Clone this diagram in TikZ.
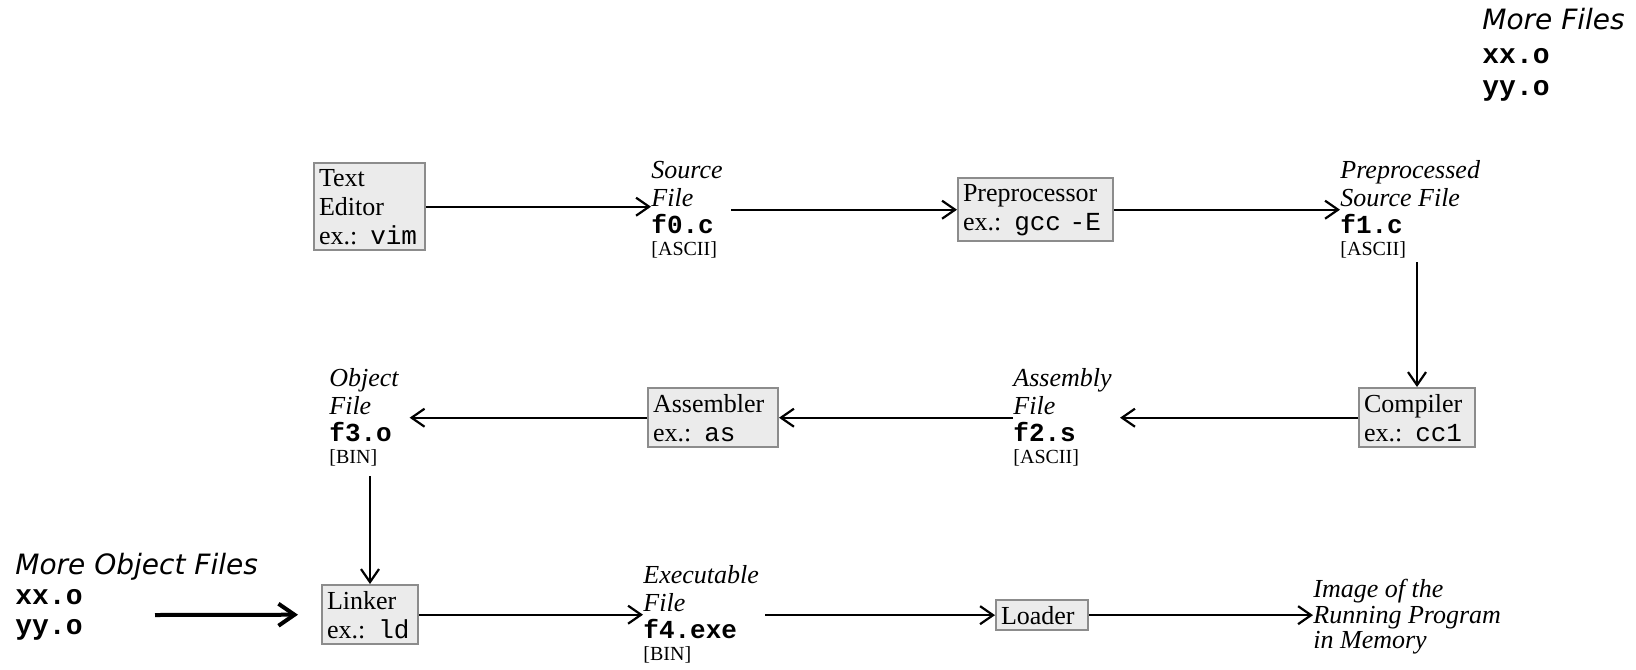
\documentclass[tikz,border=0pt]{standalone}
\usepackage{fontspec}
\setmainfont{Liberation Serif}
\setmonofont{Liberation Mono}
\newfontfamily\uifont{DejaVu Sans}
\usetikzlibrary{arrows.meta}
\definecolor{boxfill}{HTML}{EBEBEB}
\definecolor{boxline}{HTML}{8C8C8C}

\begin{document}
\begin{tikzpicture}[x=0.5pt,y=-0.5pt,
  tool/.style={draw=boxline,fill=boxfill,line width=1pt,anchor=north west,align=left,inner xsep=2.5pt,inner ysep=3pt,font=\fontsize{13}{14.5}\selectfont},
  file/.style={anchor=north west,align=left,inner sep=0pt,font=\fontsize{13}{13.8}\selectfont},
  more/.style={anchor=north west,align=left,inner sep=0pt,font=\fontsize{14}{15}\selectfont},
  flow/.style={-{Straight Barb[length=6.5pt,width=9pt]},line width=1.1pt},
  bigflow/.style={-{Straight Barb[length=8pt,width=11pt]},line width=2pt}]

    \useasboundingbox (0,0) rectangle (1636,669);

    % tools
    \node[tool,text width=50.5pt] (te) at (313,162) {Text\\Editor\\ex.: \texttt{vim}};
    \node[tool,text width=72.5pt] (pre) at (957,177) {Preprocessor\\ex.: \texttt{gcc -E}};
    \node[tool,text width=53pt] (comp) at (1358,387) {Compiler\\ex.: \texttt{cc1}};
    \node[tool,text width=60pt] (asm) at (647,387) {Assembler\\ex.: \texttt{as}};
    \node[tool,text width=43pt] (lnk) at (321,584) {Linker\\ex.: \texttt{ld}};
    \node[tool,text width=41pt] (ldr) at (995,599) {Loader};

    % files
    \node[file] (src) at (651,161) {\textit{Source}\\\textit{File}\\\textbf{\texttt{f0.c}}\\[-3pt]{\fontsize{10}{12}\selectfont [ASCII]}};
    \node[file] (ppf) at (1340,160) {\textit{Preprocessed}\\\textit{Source File}\\\textbf{\texttt{f1.c}}\\[-3pt]{\fontsize{10}{12}\selectfont [ASCII]}};
    \node[file] (asf) at (1013,368) {\textit{Assembly}\\\textit{File}\\\textbf{\texttt{f2.s}}\\[-3pt]{\fontsize{10}{12}\selectfont [ASCII]}};
    \node[file] (obj) at (329,368) {\textit{Object}\\\textit{File}\\\textbf{\texttt{f3.o}}\\[-3pt]{\fontsize{10}{12}\selectfont [BIN]}};
    \node[file] (exe) at (643,565) {\textit{Executable}\\\textit{File}\\\textbf{\texttt{f4.exe}}\\[-3pt]{\fontsize{10}{12}\selectfont [BIN]}};
    \node[file,font=\fontsize{13}{12.8}\selectfont] (img) at (1313,579) {\textit{Image of the}\\\textit{Running Program}\\\textit{in Memory}};

    % extra inputs
    \node[more] (mof) at (15,553) {{\uifont\itshape More Object Files}\\\textbf{\texttt{xx.o}}\\\textbf{\texttt{yy.o}}};
    \node[more,font=\fontsize{14}{16}\selectfont] (mf) at (1482,8) {{\uifont\itshape More Files}\\[1pt]\textbf{\texttt{xx.o}}\\\textbf{\texttt{yy.o}}};
    \coordinate (mofin) at (155,615);

    % flow
    \draw[flow] (te.east) -- (te.east -| src.west);
    \draw[flow] ([xshift=4pt]src.east |- pre.west) -- (pre.west);
    \draw[flow] (pre.east) -- (pre.east -| ppf.west);
    \draw[flow] ([yshift=-2pt]ppf.south -| comp.north) -- (comp.north);
    \draw[flow] (comp.west) -- ([xshift=4pt]asf.east |- comp.west);
    \draw[flow] (asf.west |- asm.east) -- (asm.east);
    \draw[flow] (asm.west) -- ([xshift=5pt]obj.east |- asm.west);
    \draw[flow] ([yshift=-5pt]obj.south -| lnk.north) -- (lnk.north);
    \draw[bigflow] (mofin) -- ([xshift=-11.5pt]lnk.west);
    \draw[flow] (lnk.east) -- (lnk.east -| exe.west);
    \draw[flow] ([xshift=3pt]exe.east |- ldr.west) -- (ldr.west);
    \draw[flow] (ldr.east) -- (ldr.east -| img.west);
\end{tikzpicture}
\end{document}
